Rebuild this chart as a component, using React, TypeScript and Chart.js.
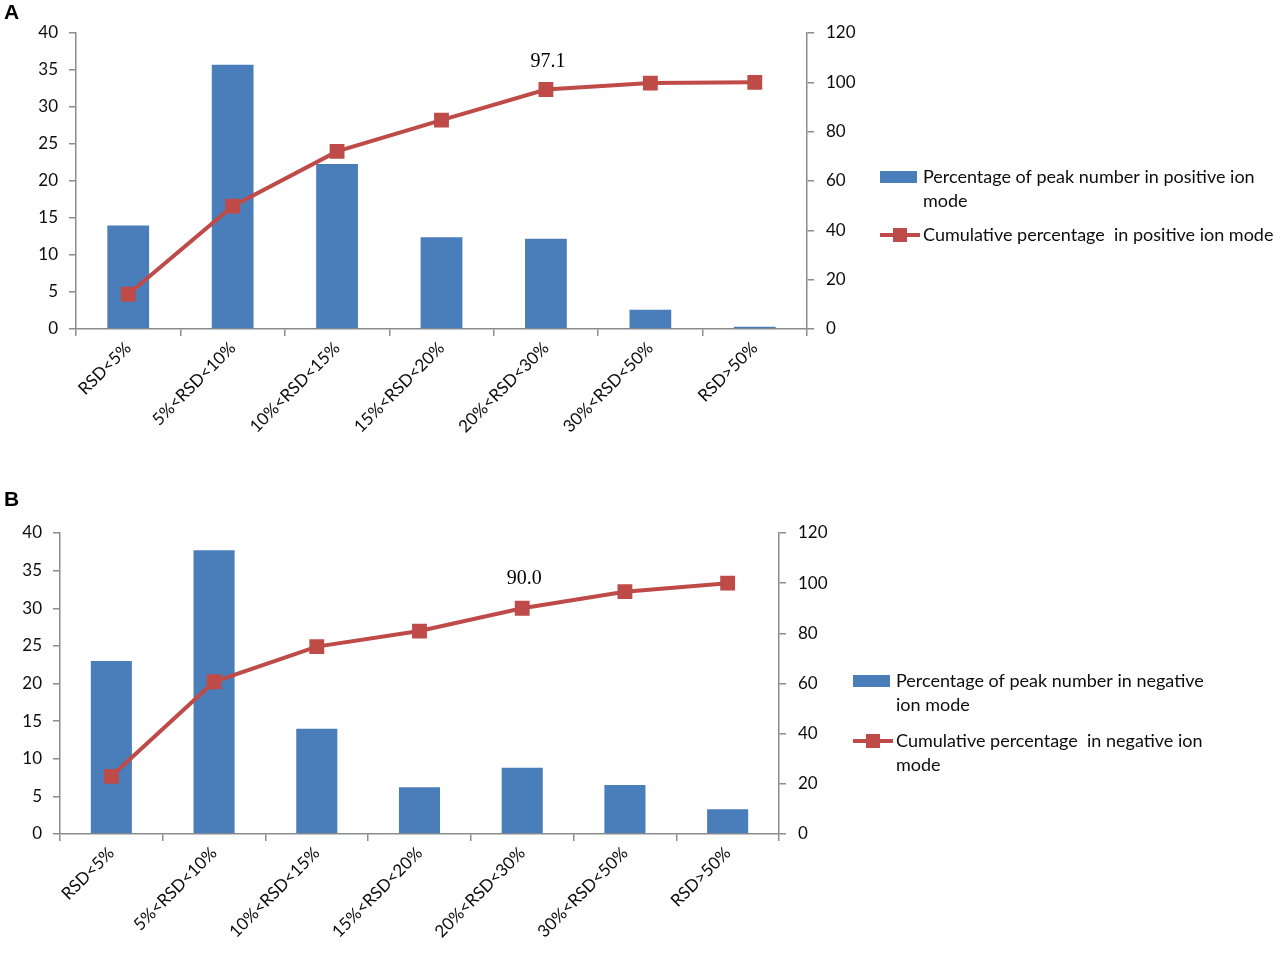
import React, { useEffect, useRef } from "react";
import { Chart, registerables } from "chart.js";

Chart.register(...registerables);

// ---------- data ----------
const categories = [
  "RSD<5%",
  "5%<RSD<10%",
  "10%<RSD<15%",
  "15%<RSD<20%",
  "20%<RSD<30%",
  "30%<RSD<50%",
  "RSD>50%",
];

const positivePeaks = [14.0, 35.7, 22.3, 12.4, 12.2, 2.6, 0.3];
const positiveCumulative = [14.1, 49.8, 72.0, 84.7, 97.1, 99.7, 100.0];

const negativePeaks = [23.0, 37.7, 14.0, 6.2, 8.8, 6.5, 3.3];
const negativeCumulative = [23.0, 60.7, 74.7, 80.9, 90.0, 96.6, 100.0];

const leftAxisRange = [0, 40, 5]; // min, max, step
const rightAxisRange = [0, 120, 20];

const positiveLegend = [
  ["Percentage of peak number in positive ion", "mode"],
  ["Cumulative percentage  in positive ion mode"],
];
const negativeLegend = [
  ["Percentage of peak number in negative", "ion mode"],
  ["Cumulative percentage  in negative ion", "mode"],
];

const annotatedIndex = 4;

// ---------- styles ----------
const BAR_COLOR = "#4A7EBB";
const LINE_COLOR = "#BE4B48";
const AXIS_COLOR = "#8C8C8C";
const TEXT_COLOR = "#0D0D0D";
const FONT = "Lato";

const overlayPlugin = {
  id: "overlay",
  afterDatasetsDraw(chart: any, _args: any, opts: any) {
    const ctx = chart.ctx as CanvasRenderingContext2D;
    const area = chart.chartArea;
    ctx.save();

    // panel letter
    ctx.fillStyle = "#000";
    ctx.font = "bold 21px 'Liberation Sans'";
    ctx.textAlign = "left";
    ctx.textBaseline = "middle";
    ctx.fillText(opts.letter, opts.letterX, opts.letterY);

    // annotation above a cumulative point
    const lineMeta = chart.getDatasetMeta(1);
    const pt = lineMeta.data[opts.annotateIndex];
    const val = chart.data.datasets[1].data[opts.annotateIndex] as number;
    ctx.font = "20px 'Liberation Serif'";
    ctx.textAlign = "center";
    ctx.fillText(val.toFixed(1), pt.x + 2, pt.y - opts.annotateOffset);

    // legend
    const x0 = area.right + opts.legendDx;
    let y = area.top + opts.legendDy;
    ctx.font = `18px ${FONT}`;
    ctx.textAlign = "left";
    (opts.legend as string[][]).forEach((lines, i) => {
      if (i === 0) {
        ctx.fillStyle = BAR_COLOR;
        ctx.fillRect(x0, y - 6, 37, 12);
      } else {
        ctx.strokeStyle = LINE_COLOR;
        ctx.lineWidth = 4;
        ctx.beginPath();
        ctx.moveTo(x0, y);
        ctx.lineTo(x0 + 40, y);
        ctx.stroke();
        ctx.fillStyle = LINE_COLOR;
        ctx.fillRect(x0 + 13, y - 7, 14, 14);
      }
      ctx.fillStyle = TEXT_COLOR;
      lines.forEach((ln, j) => {
        ctx.fillText(ln, x0 + 43, y + j * 24);
      });
      y += (lines.length - 1) * 24 + opts.itemGap;
    });

    ctx.restore();
  },
};

type PanelProps = {
  letter: string;
  bars: number[];
  cumulative: number[];
  legend: string[][];
  width: number;
  height: number;
  top: number;
  padTop: number;
  leftW: number;
  rightW: number;
  padRight: number;
  xAxisH: number;
  legendDx: number;
  legendDy: number;
  itemGap: number;
  annotateOffset: number;
  letterY: number;
};

function Panel(p: PanelProps) {
  const ref = useRef<HTMLCanvasElement | null>(null);

  useEffect(() => {
    if (!ref.current) return;
    const tickFont = { family: FONT, size: 17 };
    const chart = new Chart(ref.current, {
      type: "bar",
      data: {
        labels: categories,
        datasets: [
          {
            type: "bar",
            label: p.legend[0].join(" "),
            data: p.bars,
            backgroundColor: BAR_COLOR,
            borderWidth: 0,
            barPercentage: 0.4,
            categoryPercentage: 1,
            yAxisID: "y",
            order: 1,
          },
          {
            type: "line",
            label: p.legend[1].join(" "),
            data: p.cumulative,
            borderColor: LINE_COLOR,
            backgroundColor: LINE_COLOR,
            borderWidth: 4,
            pointStyle: "rect",
            pointRadius: 10.5,
            pointBorderWidth: 0,
            tension: 0,
            yAxisID: "y1",
            order: 0,
          } as any,
        ],
      },
      options: {
        animation: false,
        responsive: false,
        devicePixelRatio: 1,
        layout: {
          padding: { top: p.padTop, left: 0, right: p.padRight, bottom: 0 },
        },
        plugins: {
          legend: { display: false },
          tooltip: { enabled: false },
          overlay: {
            letter: p.letter,
            letterX: 4,
            letterY: p.letterY,
            annotateIndex: annotatedIndex,
            annotateOffset: p.annotateOffset,
            legend: p.legend,
            legendDx: p.legendDx,
            legendDy: p.legendDy,
            itemGap: p.itemGap,
          },
        } as any,
        scales: {
          x: {
            offset: true,
            grid: {
              display: true,
              drawOnChartArea: false,
              drawTicks: true,
              tickLength: 7,
              color: AXIS_COLOR,
              lineWidth: 1.5,
              offset: true,
            },
            border: { display: true, color: AXIS_COLOR, width: 1.5 },
            ticks: {
              autoSkip: false,
              minRotation: 45,
              maxRotation: 45,
              font: tickFont,
              color: TEXT_COLOR,
              padding: 2,
            },
            afterFit: (s: any) => {
              s.height = p.xAxisH;
            },
          },
          y: {
            position: "left",
            min: leftAxisRange[0],
            max: leftAxisRange[1],
            grid: {
              display: true,
              drawOnChartArea: false,
              drawTicks: true,
              tickLength: 7,
              color: AXIS_COLOR,
              lineWidth: 1.5,
            },
            border: { display: true, color: AXIS_COLOR, width: 1.5 },
            ticks: {
              stepSize: leftAxisRange[2],
              font: tickFont,
              color: TEXT_COLOR,
              padding: 11,
            },
            afterFit: (s: any) => {
              s.width = p.leftW;
            },
          },
          y1: {
            position: "right",
            min: rightAxisRange[0],
            max: rightAxisRange[1],
            grid: {
              display: true,
              drawOnChartArea: false,
              drawTicks: true,
              tickLength: 7,
              color: AXIS_COLOR,
              lineWidth: 1.5,
            },
            border: { display: true, color: AXIS_COLOR, width: 1.5 },
            ticks: {
              stepSize: rightAxisRange[2],
              font: tickFont,
              color: TEXT_COLOR,
              padding: 12,
            },
            afterFit: (s: any) => {
              s.width = p.rightW;
            },
          },
        },
      },
      plugins: [overlayPlugin],
    });
    return () => chart.destroy();
  }, []);

  return (
    <canvas
      ref={ref}
      width={p.width}
      height={p.height}
      style={{
        position: "absolute",
        left: 0,
        top: p.top,
        width: p.width,
        height: p.height,
      }}
    />
  );
}

export default function App() {
  return (
    <div
      style={{
        position: "absolute",
        left: 0,
        top: 0,
        width: 1287,
        height: 961,
        background: "#fff",
        overflow: "hidden",
      }}
    >
      <Panel
        letter="A"
        bars={positivePeaks}
        cumulative={positiveCumulative}
        legend={positiveLegend}
        width={1287}
        height={480}
        top={0}
        padTop={33}
        leftW={76}
        rightW={60}
        padRight={1287 - 807 - 60}
        xAxisH={480 - 329}
        legendDx={73}
        legendDy={144}
        itemGap={34}
        annotateOffset={28}
        letterY={13}
      />
      <Panel
        letter="B"
        bars={negativePeaks}
        cumulative={negativeCumulative}
        legend={negativeLegend}
        width={1287}
        height={481}
        top={480}
        padTop={53}
        leftW={60}
        rightW={60}
        padRight={1287 - 779 - 60}
        xAxisH={481 - 354}
        legendDx={74}
        legendDy={148}
        itemGap={36}
        annotateOffset={30}
        letterY={20}
      />
    </div>
  );
}
